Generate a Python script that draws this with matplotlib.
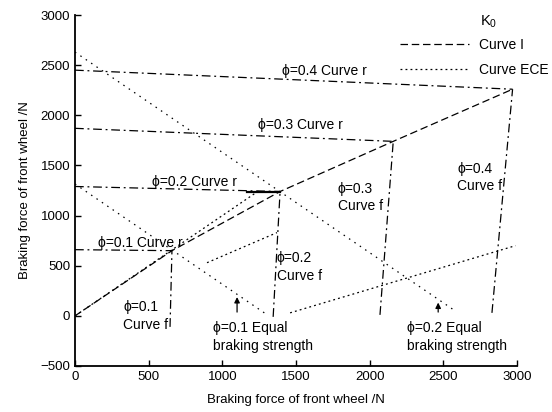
import matplotlib
matplotlib.use("Agg")
import matplotlib.pyplot as plt
from matplotlib.lines import Line2D

plt.rcParams['font.family'] = ['Liberation Sans', 'DejaVu Sans']
plt.rcParams['mathtext.fontset'] = 'custom'
plt.rcParams['mathtext.rm'] = 'Liberation Sans'
plt.rcParams['font.size'] = 9.5

# ---- data (N) -----------------------------------------------------
phis = [0.1, 0.2, 0.3, 0.4]

# ideal curve I, goes through the f/r intersections
i_x = [0, 658, 1392, 2160, 2970]
i_y = [0, 650, 1240, 1740, 2260]

# r lines: start on the y axis, end on curve I
r_x0 = [0, 0, 0, 0]
r_y0 = [660, 1290, 1870, 2450]
r_x1 = [658, 1392, 2160, 2970]
r_y1 = [650, 1240, 1740, 2260]

# f lines: start near the x axis, end on curve I
f_x0 = [645, 1345, 2070, 2830]
f_y0 = [-110, -10, 10, 30]
f_x1 = [658, 1392, 2160, 2970]
f_y1 = [650, 1240, 1740, 2260]

# equal braking strength lines
eq_phi = [0.1, 0.2]
eq_x0 = [0, 0]
eq_y0 = [1315, 2630]
eq_x1 = [1300, 2570]
eq_y1 = [15, 60]

# ECE limit lines
ece_x = [[0, 1250], [896, 1371], [1460, 2990]]
ece_y = [[0, 1250], [530, 830], [30, 700]]

# arrow positions of the equal braking strength notes
arrow_x = [1100, 2465]
arrow_tip = [215, 160]

xticks = [0, 500, 1000, 1500, 2000, 2500, 3000]
yticks = [-500, 0, 500, 1000, 1500, 2000, 2500, 3000]

# -------------------------------------------------------------------
fig = plt.figure(figsize=(5.52, 4.12), dpi=100)
ax = fig.add_axes([75/552, 1-366/412, (517-75)/552, (366-15)/412])

dashdot = (0, (7, 3, 1.5, 3))
for k in range(4):
    ax.plot([r_x0[k], r_x1[k]], [r_y0[k], r_y1[k]], color='black', lw=0.9, linestyle=dashdot)
    ax.plot([f_x0[k], f_x1[k]], [f_y0[k], f_y1[k]], color='black', lw=0.9, linestyle=dashdot)

for k in range(2):
    ax.plot([eq_x0[k], eq_x1[k]], [eq_y0[k], eq_y1[k]], color='black', lw=0.9, linestyle=(0, (1.2, 4)))

ax.plot(i_x, i_y, color='black', lw=0.9, linestyle=(0, (6, 3)))
for xs, ys in zip(ece_x, ece_y):
    ax.plot(xs, ys, color='black', lw=0.9, linestyle=(0, (1.5, 2.5)))

# short solid piece of the phi=0.2 r line near curve I
ax.plot([1170, r_x1[1]], [1240, r_y1[1]], color='black', lw=1.6)

for xa, ya in zip(arrow_x, arrow_tip):
    ax.annotate('', xy=(xa, ya), xytext=(xa, 10),
                arrowprops=dict(arrowstyle='-|>', color='black', lw=0.9, mutation_scale=8))

# labels on the curves
fs = 10
ls = 1.35
ax.text(1405, 2440, 'ϕ=0.4 Curve r', va='center', fontsize=fs)
ax.text(1242, 1900, 'ϕ=0.3 Curve r', va='center', fontsize=fs)
ax.text(523, 1330, 'ϕ=0.2 Curve r', va='center', fontsize=fs)
ax.text(156, 730, 'ϕ=0.1 Curve r', va='center', fontsize=fs)
ax.text(326, 0, 'ϕ=0.1\nCurve f', va='center', fontsize=fs, linespacing=ls)
ax.text(1371, 490, 'ϕ=0.2\nCurve f', va='center', fontsize=fs, linespacing=ls)
ax.text(1785, 1180, 'ϕ=0.3\nCurve f', va='center', fontsize=fs, linespacing=ls)
ax.text(2593, 1380, 'ϕ=0.4\nCurve f', va='center', fontsize=fs, linespacing=ls)
ax.text(937, -210, 'ϕ=0.1 Equal\nbraking strength', va='center', fontsize=fs, linespacing=ls)
ax.text(2254, -210, 'ϕ=0.2 Equal\nbraking strength', va='center', fontsize=fs, linespacing=ls)

ax.set_xlim(0, 3000)
ax.set_ylim(-500, 3000)
ax.set_xticks(xticks)
ax.set_yticks(yticks)
ax.spines['top'].set_visible(False)
ax.spines['right'].set_visible(False)
ax.spines['left'].set_linewidth(1.3)
ax.spines['bottom'].set_linewidth(1.3)
ax.tick_params(direction='in', length=4, width=1, labelsize=9.5)
ax.set_xlabel('Braking force of front wheel /N', fontsize=9.5, labelpad=8)
ax.set_ylabel('Braking force of front wheel /N', fontsize=9.5, labelpad=7)

handles = [Line2D([], [], color='black', lw=0.9, linestyle=(0, (6, 3))),
           Line2D([], [], color='black', lw=0.9, linestyle=(0, (1.5, 2.5)))]
fig.legend(handles, ['Curve I', 'Curve ECE'], loc='upper left',
           bbox_to_anchor=(400/552, 1-38/412), frameon=False, borderpad=0,
           borderaxespad=0, handlelength=5.0, handletextpad=0.7, labelspacing=0.8,
           fontsize=10)
fig.text(480/552, 1-22/412, r'$\mathrm{K}_0$', fontsize=10.5, va='center')

fig.savefig('out.png', dpi=100)
